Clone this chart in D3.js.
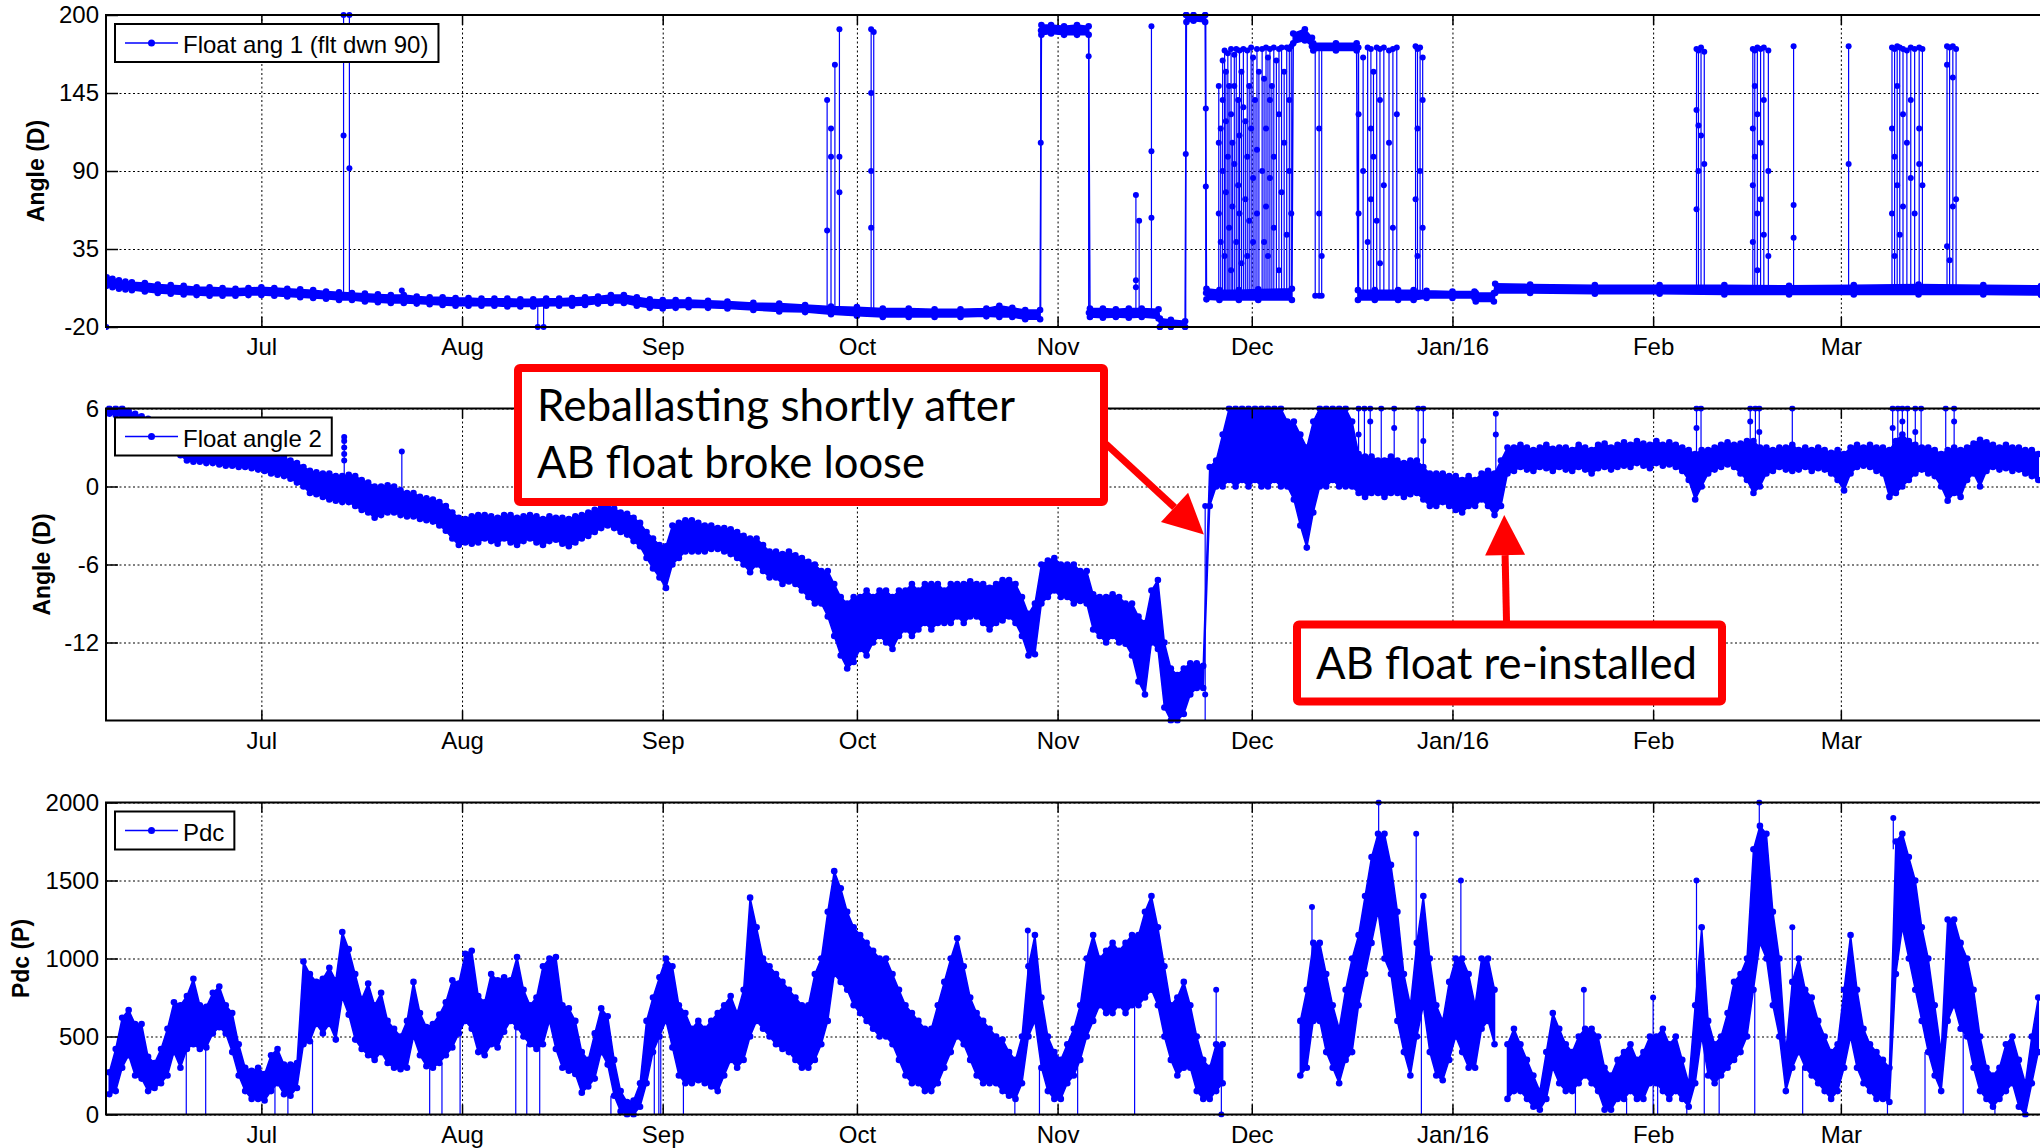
<!DOCTYPE html>
<html>
<head>
<meta charset="utf-8">
<script src="https://cdnjs.cloudflare.com/ajax/libs/d3/7.8.5/d3.min.js"></script>
<style>
  body { margin: 0; background: #fff; }
  svg { display: block; font-family: "Liberation Sans", Arial, sans-serif; }
</style>
</head>
<body>
<svg id="chart" width="2040" height="1148"></svg>
<script>
// day 0 = 7 Jun 2015
const startDate = new Date(2015, 5, 7);
const endDate = new Date(2016, 3, 2);

const monthTicks = [
  new Date(2015, 6, 1), new Date(2015, 7, 1), new Date(2015, 8, 1), new Date(2015, 9, 1),
  new Date(2015, 10, 1), new Date(2015, 11, 1), new Date(2016, 0, 1), new Date(2016, 1, 1),
  new Date(2016, 2, 1)
];
const monthLabels = ['Jul', 'Aug', 'Sep', 'Oct', 'Nov', 'Dec', 'Jan/16', 'Feb', 'Mar'];

const ang1Ticks = [-20, 35, 90, 145, 200];
const ang2Ticks = [-12, -6, 0, 6];
const pdcTicks = [0, 500, 1000, 1500, 2000];

// Float ang 1: band rows [day, low, high]
const ang1Band = [
  [0.1, 9, 15], [1, 8, 14], [2, 7, 13], [3, 6.5, 12], [4, 6, 11.5], [6, 5, 11], [8, 4, 10],
  [10, 3.5, 9.5], [12, 3, 9], [14, 2.5, 8], [16, 2, 8], [18, 2, 7.5], [20, 2, 7], [22, 2.5, 7.5],
  [24, 2.5, 8], [26, 2, 7.5], [28, 1.5, 7], [30, 1, 6.5], [32, 0.5, 6], [34, 0, 5], [36, -1, 4.5],
  [38, -1, 4], [40, -2, 3.5], [42, -2.5, 3], [44, -3, 2.5], [46, -3, 2.5], [48, -3.5, 1.5],
  [50, -4, 1], [52, -4.5, 1], [54, -5, 0.5], [56, -5, 0.5], [58, -5, 0], [60, -5, 0],
  [62, -5.5, 0], [64, -5.5, -0.5], [66, -5.5, -0.5], [68, -5, 0], [70, -5, 0], [72, -5, 0.5],
  [74, -4.5, 1], [76, -3.5, 1.5], [78, -3, 2.5], [80, -3, 2.5], [82, -5, 1], [84, -6.5, -0.5],
  [86, -7, -1], [88, -6.5, -1], [90, -6, -1], [93, -6.5, -1.5], [96, -7, -2], [100, -8, -3],
  [104, -9, -3.5], [108, -9.5, -4.5], [112, -11, -5.5], [116, -12, -6], [120, -13, -7],
  [124, -13, -7], [128, -13, -7.5], [132, -13, -7.5], [136, -12.5, -7], [138, -13, -5],
  [140, -13, -6.5], [142, -14.5, -8], [144.3, -14.5, -8], [144.5, 186, 193], [146, 187, 193],
  [148, 186, 192], [150, 186, 193], [151.8, 186, 192], [152, -13, -7], [154, -13.5, -7],
  [156, -13, -7.5], [158, -13.5, -7], [160, -13, -7], [162.6, -14, -7.5], [162.8, -20, -14],
  [164.5, -20, -15], [166.7, -20, -16], [166.9, 195, 200], [168, 196, 200], [169.8, 195, 200],
  [170, -0.5, 7], [172, -1, 6], [175, -1, 6], [178, -1, 6.5], [183.2, -1, 7], [183.4, 180, 187],
  [185.2, 182, 190], [186.3, 178, 184], [186.5, 175, 180], [190, 175, 180], [193.2, 175, 180],
  [193.4, -1, 6], [196, -1, 6], [199.6, -1, 6], [202, -1, 6], [204, 0.5, 5.5], [208, 0.5, 5],
  [211.4, 0.5, 5], [211.6, -2, 4], [214.4, -2, 4], [214.6, 4, 10.5], [220, 4, 10], [230, 3.5, 9.5],
  [240, 3.5, 9.5], [250, 3, 9.5], [260, 3, 9], [270, 3, 9.5], [280, 3, 10], [290, 3, 9.5],
  [298.9, 2.5, 9]
];

// Float ang 1: excursions [day, from, to, ...intermediate samples]
const ang1Spikes = [
  [0.05, 11, -20], [36.7, 1.5, 200, 115], [37.6, 1.5, 200, 92], [45.7, 0, 5.8],
  [66.7, -3, -20], [67.6, -3, -20],
  [111.4, -9, 140, 48], [112.0, -9, 120, 100], [112.6, -9, 165], [113.3, -9, 190, 100, 75],
  [118.2, -10, 190, 145, 90, 50], [118.6, -10, 188],
  [144.4, -10, 189, 110], [151.8, 189, -10, 171],
  [159.1, -10, 73, 13, 8], [159.6, -10, 55], [161.5, -10, 192, 104, 57],
  [166.8, -18, 200, 102], [169.9, 200, 4, 134, 79],
  [171.9, 2, 150, 60, 110], [172.2, 2, 120, 40], [172.5, 2, 168, 90, 140], [172.8, 2, 175, 30],
  [173.0, 2, 160, 75, 125], [173.3, 2, 173, 100], [173.5, 2, 150, 50], [173.8, 2, 176, 130, 20],
  [174.0, 2, 110, 65], [174.3, 2, 172, 95, 150], [174.6, 2, 176, 40], [174.9, 2, 140, 80],
  [175.1, 2, 175, 115, 60], [175.4, 2, 160, 25], [175.7, 2, 176, 135], [176.0, 2, 125, 70],
  [176.3, 2, 175, 100, 30], [176.6, 2, 150, 55], [176.9, 2, 177, 120], [177.2, 2, 170, 85, 40],
  [177.5, 2, 140], [177.8, 2, 176, 105, 60], [178.1, 2, 160],
  [178.6, 2, 176, 90], [178.9, 2, 155, 40], [179.2, 2, 177, 120, 65], [179.5, 2, 170, 30],
  [179.8, 2, 176, 140, 85], [180.1, 2, 150], [180.4, 2, 177, 100, 50], [180.8, 2, 168],
  [181.2, 2, 176, 130, 20], [181.6, 2, 177, 75], [182.0, 2, 160, 110], [182.4, 2, 177, 45],
  [182.8, 2, 176, 90, 140], [183.1, 2, 178, 60],
  [186.8, 178, 2], [187.4, 178, 2, 60, 120], [187.8, 178, 2, 30],
  [193.5, 2, 177, 130, 60], [194.2, 2, 170, 90], [194.9, 2, 177, 40], [195.4, 2, 176, 120, 70],
  [195.8, 2, 160, 100], [196.3, 2, 177, 55], [196.8, 2, 176, 140, 25], [197.4, 2, 177, 80],
  [198.2, 2, 175, 110], [198.8, 2, 176, 50], [199.4, 2, 177, 130],
  [202.3, 2, 178, 70], [202.6, 2, 176, 120, 30], [203.0, 2, 177, 90], [203.4, 2, 170, 140, 50],
  [245.7, 6, 176, 133, 63], [246.0, 6, 175, 122, 90], [246.4, 6, 177, 115], [246.9, 6, 174, 95],
  [254.4, 6, 176, 120, 80, 40], [254.7, 6, 175, 150, 100], [255.1, 6, 177, 130, 60, 20],
  [255.6, 6, 176, 110, 70], [256.1, 6, 177, 140, 45], [256.8, 6, 175, 90, 30],
  [260.7, 6, 178, 66, 43], [269.2, 6, 178, 95],
  [275.9, 7, 177, 60, 120], [276.3, 7, 176, 100, 30], [276.7, 7, 178, 150, 80], [277.1, 7, 177, 45],
  [277.6, 7, 176, 130, 65], [278.2, 7, 175, 110], [278.8, 7, 177, 140, 85], [279.4, 7, 176, 60],
  [280.1, 7, 177, 120, 95], [280.6, 7, 176, 80],
  [284.4, 6, 178, 165, 37], [284.8, 6, 177, 27], [285.3, 6, 178, 156, 65], [285.8, 6, 176, 70]
];

// Float angle 2: daily low / high, day index 0..298
const ang2Lo = [
  5.6, 5.5, 5.5, 5.0, 4.8, 4.6, 4.3, 4.0, 3.6, 3.2, 2.8, 2.4, 2.0, 1.9, 1.9, 1.8, 1.8, 1.7, 1.6, 1.6,
  1.5, 1.5, 1.4, 1.3, 1.2, 1.0, 0.9, 0.8, 0.6, 0.3, 0.0, -0.5, -0.6, -0.8, -1.0, -1.1, -1.2, -1.2, -1.5, -1.8,
  -2.0, -2.4, -2.2, -2.0, -2.0, -2.2, -2.3, -2.3, -2.5, -2.6, -2.7, -3.0, -3.4, -4.0, -4.5, -4.3, -4.4, -4.3, -4.0, -4.2,
  -4.4, -4.0, -4.3, -4.5, -4.2, -4.0, -4.3, -4.5, -4.2, -4.1, -4.4, -4.6, -4.3, -4.0, -3.8, -3.5, -3.2, -3.0, -3.2, -3.5,
  -3.7, -4.2, -4.6, -5.5, -6.3, -7.0, -7.8, -6.0, -5.5, -5.0, -5.0, -5.0, -5.0, -4.8, -4.8, -5.0, -5.2, -5.5, -6.0, -6.6,
  -6.0, -6.5, -7.0, -7.0, -7.5, -7.3, -7.5, -8.0, -8.5, -9.0, -9.0, -10.0, -11.5, -13.0, -14.0, -13.5, -12.5, -13.0, -12.0, -11.5,
  -12.0, -12.5, -11.5, -11.0, -11.5, -11.0, -10.5, -11.0, -10.5, -10.5, -10.5, -10.0, -10.5, -10.0, -10.0, -10.5, -11.0, -10.5, -10.3, -10.0,
  -10.5, -11.5, -13.0, -12.9, -9.0, -8.5, -8.0, -8.5, -8.5, -9.0, -8.8, -9.0, -11.0, -11.5, -12.0, -11.5, -12.0, -12.1, -13.0, -15.0,
  -16.0, -12.0, -12.5, -17.0, -18.0, -18.0, -17.5, -16.0, -15.5, -15.5, -1.5, 0.0, 0.0, 0.5, 0.0, 0.5, 0.0, 0.5, 0.0, 0.0,
  0.5, 0.0, 0.0, -1.0, -3.0, -4.7, -2.0, 0.0, 0.0, 0.5, 0.0, 0.0, 0.0, -0.5, -0.8, -0.5, -0.5, -0.8, -0.5, -0.5,
  -0.8, -0.6, -0.5, -1.0, -1.5, -1.5, -1.2, -1.5, -1.8, -2.0, -1.5, -1.5, -1.0, -1.5, -2.2, -1.5, 1.0, 1.2, 1.5, 1.3,
  1.2, 1.5, 1.4, 1.2, 1.5, 1.3, 1.2, 1.5, 1.3, 1.0, 1.4, 1.5, 1.3, 1.5, 1.6, 1.5, 1.8, 1.6, 1.4, 1.8,
  1.6, 1.7, 1.5, 1.2, 0.5, -1.0, 0.0, 1.0, 1.3, 1.5, 1.7, 1.5, 1.0, 0.5, -0.5, 0.0, 1.0, 1.2, 1.5, 1.3,
  1.2, 1.3, 1.5, 1.2, 1.4, 1.3, 1.0, 0.5, -0.3, 1.0, 1.5, 1.6, 1.5, 1.2, 1.0, -0.8, -0.5, 0.0, 0.5, 1.0,
  1.3, 1.0, 0.8, 0.0, -1.1, -0.5, -0.8, 0.5, 1.0, 0.0, 1.2, 1.5, 1.3, 1.4, 1.2, 1.3, 1.0, 0.8, 0.5
];
const ang2Hi = [
  6.0, 6.0, 6.0, 5.8, 5.6, 5.4, 5.2, 5.0, 4.7, 4.3, 3.9, 3.4, 2.9, 2.9, 2.8, 2.8, 2.8, 2.7, 2.7, 2.7,
  2.6, 2.6, 2.6, 2.5, 2.5, 2.4, 2.3, 2.2, 2.0, 1.8, 1.5, 1.2, 1.1, 1.0, 1.0, 0.8, 0.8, 0.9, 0.8, 0.5,
  0.3, 0.0, 0.0, 0.1, 0.0, -0.3, -0.5, -0.5, -0.8, -0.9, -1.0, -1.2, -1.5, -2.0, -2.4, -2.5, -2.3, -2.2, -2.2, -2.3,
  -2.4, -2.2, -2.2, -2.4, -2.3, -2.2, -2.3, -2.5, -2.3, -2.4, -2.4, -2.5, -2.3, -2.2, -2.0, -1.8, -1.6, -1.5, -1.7, -2.0,
  -2.1, -2.4, -2.8, -3.5, -4.0, -4.5, -4.6, -3.0, -2.8, -2.6, -2.6, -2.8, -3.0, -3.0, -3.2, -3.2, -3.3, -3.5, -3.8, -4.0,
  -4.0, -4.5, -5.0, -5.0, -5.2, -5.0, -5.3, -5.5, -5.8, -6.0, -6.5, -6.5, -7.5, -8.5, -9.0, -8.5, -8.5, -8.0, -8.5, -8.0,
  -8.0, -8.5, -8.0, -8.0, -7.5, -8.0, -7.5, -7.5, -7.5, -8.0, -7.5, -7.5, -7.5, -7.3, -7.5, -7.5, -7.8, -7.5, -7.2, -7.2,
  -7.5, -8.5, -9.8, -9.0, -6.0, -5.7, -5.5, -6.0, -6.0, -6.0, -6.5, -6.5, -8.3, -8.5, -8.5, -8.3, -8.5, -9.0, -9.0, -10.0,
  -10.5, -8.0, -7.2, -12.0, -14.0, -14.5, -14.0, -13.6, -13.6, -13.8, 1.5, 2.0, 4.0, 6.0, 6.0, 6.0, 6.0, 6.0, 6.0, 6.0,
  6.0, 6.0, 5.0, 5.0, 4.0, 3.0, 5.0, 6.0, 6.0, 6.0, 6.0, 6.0, 5.0, 2.5, 2.3, 2.3, 2.0, 2.0, 2.3, 2.0,
  1.8, 2.0, 2.0, 1.5, 1.0, 1.0, 1.0, 0.8, 0.8, 0.5, 0.8, 0.5, 1.0, 1.2, 1.0, 2.0, 3.0, 3.0, 3.2, 3.0,
  2.8, 3.0, 3.2, 2.9, 3.0, 3.0, 2.8, 3.2, 3.0, 2.8, 3.2, 3.3, 3.0, 3.2, 3.4, 3.2, 3.5, 3.3, 3.2, 3.5,
  3.2, 3.4, 3.2, 3.0, 2.8, 2.5, 2.8, 2.8, 3.0, 3.2, 3.4, 3.2, 3.3, 3.5, 3.5, 3.0, 3.0, 2.8, 3.0, 3.0,
  3.2, 2.8, 3.0, 2.8, 3.0, 2.8, 2.6, 2.8, 2.5, 3.0, 3.2, 3.0, 3.2, 3.0, 3.0, 2.8, 3.5, 4.0, 3.5, 3.2,
  3.0, 3.0, 2.8, 2.5, 2.8, 3.0, 2.8, 3.0, 3.3, 3.6, 3.4, 3.2, 3.0, 3.2, 3.0, 3.0, 2.8, 2.8, 2.5
];
const ang2Spikes = [
  [36.8, 0.5, 3.8, 3.5, 3.0, 2.5, 2.0], [45.7, -0.5, 2.7], [169.8, -18, -1.5, -16], [214.7, 0.5, 5.6, 4],
  [193.5, 2, 6, 4], [194.4, 2, 6], [195.3, 2, 6, 5], [197.0, 2, 6], [199.0, 2, 6, 4.5],
  [202.7, 2, 6], [203.5, 1.5, 6, 3.5], [245.7, 2.5, 6, 4.5], [246.4, 2.5, 6], [254.0, 3, 6, 5],
  [254.8, 3, 6], [255.4, 3, 6, 4.2], [260.5, 3, 6], [276.0, 3, 6, 4.5], [276.8, 3, 6],
  [277.5, 3.5, 6, 5], [278.3, 3, 6], [279.5, 3, 6, 4.2], [280.4, 3, 6], [284.2, 3, 6], [285.5, 3, 6, 5]
];

// Pdc: daily low / high, null = no data
const pdcLo = [
  130, 150, 300, 380, 250, 230, 150, 170, 200, 250, 400, 300, 420, 450, 420, 430, 520, 560, 520, 400,
  250, 150, 100, 100, 90, 150, 200, 130, 120, 170, 450, 470, 580, 520, 580, 480, 750, 640, 480, 420,
  380, 350, 400, 330, 300, 290, 300, 500, 380, 310, 300, 330, 380, 430, 520, 600, 550, 400, 380, 450,
  430, 530, 600, 560, 500, 450, 420, 450, 600, 420, 300, 280, 260, 140, 180, 230, 400, 320, 120, 20,
  0, 0, 50, 200, 400, 500, 600, 430, 250, 200, 200, 220, 200, 180, 150, 250, 350, 300, 350, 500,
  600, 550, 500, 450, 420, 400, 350, 300, 300, 350, 450, 600, 900, 850, 800, 700, 650, 600, 550, 500,
  500, 450, 350, 250, 200, 200, 150, 150, 200, 300, 400, 500, 450, 350, 250, 200, 200, 200, 150, 120,
  100, 200, 500, 600, 300, 150, 100, 100, 200, 250, 350, 500, 600, 700, 650, 650, 700, 650, 700, 700,
  750, 800, 700, 500, 350, 250, 300, 300, 150, 100, 100, 150, 200, null, null, null, null, null, null, null,
  null, null, null, null, 250, 300, 600, 600, 400, 300, 200, 350, 400, 700, 900, 1100, 1300, 1000, 900, 600,
  400, 250, 500, 700, 400, 250, 220, 350, 500, 400, 300, 300, 550, 600, 450, null, 100, 150, 150, 100,
  50, 30, 100, 300, 200, 150, 150, 200, 250, 200, 150, 30, 30, 100, 100, 150, 100, 100, 200, 200,
  150, 100, 150, 100, 50, 200, 500, 250, 200, 250, 300, 350, 400, 500, 800, 1100, 1000, 700, 500, 150,
  300, 400, 300, 250, 200, 150, 100, 150, 300, 500, 300, 200, 150, 100, 100, 80, 900, 1200, 1000, 800,
  600, 400, 250, 150, 600, 700, 550, 500, 300, 150, 100, 50, 100, 150, 200, 50, 0, 200, 400
];
const pdcHi = [
  270, 420, 620, 670, 580, 580, 370, 330, 420, 550, 720, 700, 760, 870, 700, 690, 780, 820, 700, 650,
  450, 300, 280, 300, 260, 380, 420, 320, 320, 330, 980, 900, 850, 870, 940, 860, 1170, 1060, 900, 740,
  840, 700, 780, 600, 550, 500, 600, 850, 650, 560, 580, 640, 720, 860, 840, 1030, 1050, 760, 720, 900,
  860, 880, 860, 1010, 800, 700, 750, 950, 1000, 1010, 700, 680, 600, 400, 350, 520, 680, 630, 350, 150,
  80, 90, 200, 600, 750, 880, 1000, 950, 700, 650, 550, 600, 550, 600, 650, 700, 760, 650, 800, 1390,
  1200, 1000, 950, 900, 850, 800, 750, 700, 700, 900, 1000, 1300, 1560, 1450, 1300, 1200, 1150, 1100, 1050, 1000,
  1000, 900, 800, 700, 650, 600, 550, 550, 700, 850, 1000, 1130, 950, 750, 650, 600, 550, 500, 480, 400,
  350, 500, 950, 1150, 750, 500, 400, 350, 450, 550, 700, 1000, 1150, 1000, 1050, 1100, 1050, 1100, 1150, 1150,
  1300, 1400, 1200, 950, 700, 750, 850, 700, 500, 350, 300, 450, 450, null, null, null, null, null, null, null,
  null, null, null, null, 600, 800, 1100, 1100, 900, 700, 550, 800, 1000, 1150, 1400, 1650, 1800, 1800, 1600, 1300,
  900, 700, 1100, 1400, 1000, 700, 600, 850, 1000, 1000, 900, 700, 1000, 1000, 800, null, 450, 550, 450, 350,
  250, 150, 400, 650, 550, 450, 400, 500, 550, 550, 500, 300, 250, 350, 400, 450, 350, 400, 500, 500,
  550, 450, 500, 350, 200, 700, 1200, 600, 450, 500, 650, 850, 900, 1000, 1700, 1850, 1800, 1300, 1000, 400,
  850, 1000, 800, 750, 600, 500, 400, 450, 800, 1150, 800, 550, 450, 400, 350, 300, 1750, 1800, 1650, 1500,
  1200, 1000, 700, 400, 1250, 1250, 1100, 1000, 800, 500, 300, 250, 300, 450, 500, 350, 200, 500, 750
];
const pdcSpikes = [
  [142.4, 900, 1180], [171.5, 450, 800], [172.3, 200, 0], [186.3, 1000, 1330], [196.6, 1700, 2000],
  [202.4, 1000, 1800], [209.3, 900, 1500], [228.3, 500, 800], [239.0, 450, 750], [245.7, 700, 1500],
  [255.4, 1800, 2000], [260.5, 800, 1200], [276.1, 1700, 1900]
];
const pdcDrops = [
  12.4, 15.4, 26.1, 28.1, 31.9, 50.0, 51.9, 54.7, 63.3, 65.0, 67.0, 78.0, 84.7, 85.4, 85.7, 89.2,
  140.4, 144.2, 150.1, 158.9, 203.2, 227.0, 234.9, 239.0, 239.7, 244.2, 246.9, 249.2, 254.7, 262.1,
  275.2, 281.0, 286.9, 291.8, 296.4
];

const BLUE = '#0000ff';
const RED = '#ff0000';
const FONT = '"Liberation Sans", Arial, sans-serif';
const svg = d3.select('#chart');

const x = d3.scaleTime().domain([startDate, endDate]).range([106, 2048]);
const dayX = d => x(new Date(startDate.getTime() + d * 864e5));

const panels = [
  {top: 15, bottom: 327, domain: [-20, 200], ticks: ang1Ticks, label: 'Angle (D)', labelX: 36, legend: 'Float ang 1 (flt dwn 90)'},
  {top: 408.5, bottom: 720.5, domain: [-18, 6], ticks: ang2Ticks, label: 'Angle (D)', labelX: 42, legend: 'Float angle 2'},
  {top: 802.5, bottom: 1114.5, domain: [0, 2000], ticks: pdcTicks, label: 'Pdc (P)', labelX: 21, legend: 'Pdc'}
];

function dailyRows(lo, hi) {
  return lo.map((v, i) => ({d: i + 0.5, lo: v, hi: hi[i]}));
}

function drawBand(g, rows, y) {
  const area = d3.area()
    .defined(r => r.lo != null)
    .x(r => dayX(r.d))
    .y0(r => y(r.lo))
    .y1(r => y(r.hi));
  g.append('path').attr('d', area(rows))
    .attr('fill', BLUE).attr('stroke', BLUE).attr('stroke-width', 1.5);
  const pts = [];
  rows.filter(r => r.lo != null).forEach(r => { pts.push([r.d, r.lo]); pts.push([r.d, r.hi]); });
  g.selectAll(null).data(pts).enter().append('circle')
    .attr('cx', p => dayX(p[0])).attr('cy', p => y(p[1])).attr('r', 3.3).attr('fill', BLUE);
}

function drawSpikes(g, spikes, y, dots = true) {
  g.selectAll(null).data(spikes).enter().append('path')
    .attr('d', s => `M${dayX(s[0])},${y(s[1])}V${y(s[2])}`)
    .attr('stroke', BLUE).attr('stroke-width', 1.2).attr('fill', 'none');
  if (!dots) return;
  const pts = [];
  spikes.forEach(s => s.slice(2).forEach(v => pts.push([s[0], v])));
  g.selectAll(null).data(pts).enter().append('circle')
    .attr('cx', p => dayX(p[0])).attr('cy', p => y(p[1])).attr('r', 3).attr('fill', BLUE);
}

function styleAxis(a) {
  a.select('.domain').remove();
  a.attr('font-size', 24).attr('font-family', FONT);
  a.selectAll('text').attr('fill', '#000');
  a.selectAll('line').attr('stroke', '#000').attr('stroke-width', 1.5);
}

panels.forEach((p, i) => {
  const y = d3.scaleLinear().domain(p.domain).range([p.bottom, p.top]);
  p.y = y;
  const h = p.bottom - p.top;
  const g = svg.append('g');

  // grid
  g.append('g').attr('transform', `translate(0,${p.bottom})`)
    .call(d3.axisBottom(x).tickValues(monthTicks).tickSize(-h).tickFormat(''))
    .call(a => a.select('.domain').remove())
    .selectAll('line').attr('stroke', '#000').attr('stroke-dasharray', '2,2.5').attr('stroke-width', 1);
  g.append('g').attr('transform', 'translate(106,0)')
    .call(d3.axisLeft(y).tickValues(p.ticks).tickSize(-1960).tickFormat(''))
    .call(a => a.select('.domain').remove())
    .selectAll('line').attr('stroke', '#000').attr('stroke-dasharray', '2,2.5').attr('stroke-width', 1);

  // data
  svg.append('clipPath').attr('id', 'clip' + i).append('rect')
    .attr('x', 106).attr('y', p.top - 3).attr('width', 1942).attr('height', h + 6);
  const dg = svg.append('g').attr('clip-path', `url(#clip${i})`);
  if (i === 0) {
    drawBand(dg, ang1Band.map(r => ({d: r[0], lo: r[1], hi: r[2]})), y);
    drawSpikes(dg, ang1Spikes, y);
  } else if (i === 1) {
    drawBand(dg, dailyRows(ang2Lo, ang2Hi), y);
    drawSpikes(dg, ang2Spikes, y);
  } else {
    drawSpikes(dg, pdcDrops.map(d => [d, pdcLo[Math.floor(d)], 0]), y, false);
    drawBand(dg, dailyRows(pdcLo, pdcHi), y);
    drawSpikes(dg, pdcSpikes, y);
  }

  // axes
  svg.append('g').attr('transform', `translate(0,${p.bottom})`)
    .call(d3.axisBottom(x).tickValues(monthTicks).tickSizeInner(-10).tickSizeOuter(0).tickPadding(11)
      .tickFormat((d, k) => monthLabels[k]))
    .call(styleAxis);
  svg.append('g').attr('transform', `translate(0,${p.top})`)
    .call(d3.axisTop(x).tickValues(monthTicks).tickSizeInner(-10).tickSizeOuter(0).tickFormat(''))
    .call(styleAxis);
  svg.append('g').attr('transform', 'translate(106,0)')
    .call(d3.axisLeft(y).tickValues(p.ticks).tickSizeInner(-12).tickSizeOuter(0).tickPadding(7)
      .tickFormat(d => String(d)))
    .call(styleAxis);

  // frame (right edge lies off the page)
  svg.append('path')
    .attr('d', `M2048,${p.top}H106V${p.bottom}H2048`)
    .attr('fill', 'none').attr('stroke', '#000').attr('stroke-width', 2);

  // y label
  svg.append('text')
    .attr('transform', `translate(${p.labelX},${(p.top + p.bottom) / 2}) rotate(-90)`)
    .attr('text-anchor', 'middle').attr('dominant-baseline', 'central')
    .attr('font-size', 23).attr('font-weight', 'bold').text(p.label);

  // legend
  const lg = svg.append('g').attr('transform', `translate(115,${p.top + 9})`);
  const box = lg.append('rect').attr('x', 0).attr('y', 0).attr('height', 38)
    .attr('fill', '#fff').attr('stroke', '#000').attr('stroke-width', 2);
  lg.append('line').attr('x1', 10).attr('x2', 63).attr('y1', 19).attr('y2', 19)
    .attr('stroke', BLUE).attr('stroke-width', 1.5);
  lg.append('circle').attr('cx', 36.5).attr('cy', 19).attr('r', 3.5).attr('fill', BLUE);
  const lt = lg.append('text').attr('x', 68).attr('y', 29).attr('font-size', 24).text(p.legend);
  box.attr('width', 68 + lt.node().getComputedTextLength() + 10);
});

// annotations
function arrow(x1, y1, x2, y2) {
  const len = Math.hypot(x2 - x1, y2 - y1);
  const ux = (x2 - x1) / len, uy = (y2 - y1) / len;
  const head = 40, half = 20;
  const bx = x2 - ux * head, by = y2 - uy * head;
  svg.append('line').attr('x1', x1).attr('y1', y1).attr('x2', bx).attr('y2', by)
    .attr('stroke', RED).attr('stroke-width', 7);
  svg.append('path')
    .attr('d', `M${x2},${y2}L${bx - uy * half},${by + ux * half}L${bx + uy * half},${by - ux * half}Z`)
    .attr('fill', RED);
}

const y2 = panels[1].y;
arrow(1106, 444, dayX(169.6), y2(-3.7));
arrow(1506.5, 621, dayX(216), y2(-2.2));

function noteBox(bx, by, bw, bh, lines) {
  svg.append('rect').attr('x', bx).attr('y', by).attr('width', bw).attr('height', bh).attr('rx', 2)
    .attr('fill', '#fff').attr('stroke', RED).attr('stroke-width', 8);
  lines.forEach(l => {
    svg.append('text').attr('x', l.x).attr('y', l.y)
      .attr('font-family', 'Lato, "Open Sans", sans-serif').attr('font-size', 44)
      .attr('textLength', l.w).attr('lengthAdjust', 'spacingAndGlyphs').text(l.t);
  });
}
noteBox(518, 368, 586, 134, [
  {t: 'Reballasting shortly after', x: 537, y: 421, w: 478},
  {t: 'AB float broke loose', x: 537, y: 478, w: 388}
]);
noteBox(1297, 624.5, 425, 77, [
  {t: 'AB float re-installed', x: 1316, y: 679, w: 381}
]);
</script>
</body>
</html>
